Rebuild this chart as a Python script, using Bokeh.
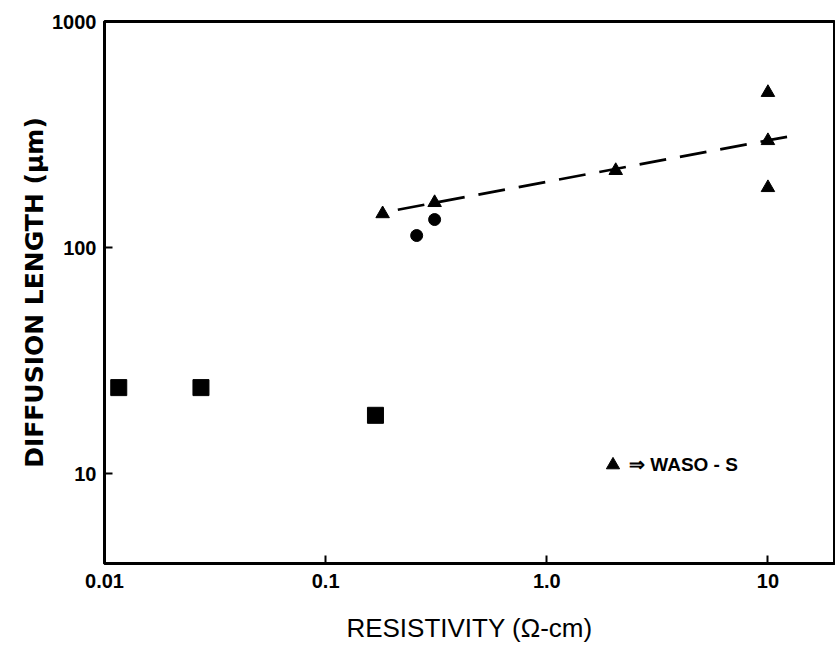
from bokeh.plotting import figure
from bokeh.models import FixedTicker, Range1d, Legend, LegendItem
from bokeh.embed import file_html
from bokeh.resources import INLINE

# ---- data ----
sq_x = [0.0116, 0.0273, 0.168]
sq_y = [24.0, 24.0, 18.1]
circ_x = [0.258, 0.311]
circ_y = [113, 133]
tri_x = [0.181, 0.311, 2.05, 10.0, 10.0, 10.0]
tri_y = [141, 158, 219, 297, 485, 184]
fit_x = [0.212, 13.8]
fit_y = [147, 316]
x_ticks = [0.01, 0.1, 1.0, 10.0]
x_tick_labels = ["0.01", "0.1", "1.0", "10"]
y_ticks = [10.0, 100.0, 1000.0]
y_tick_labels = ["10", "100", "1000"]
legend_label = "\u21d2 WASO - S"

p = figure(width=835, height=645, frame_width=730, frame_height=542,
           x_axis_type="log", y_axis_type="log",
           x_range=Range1d(0.01, 20), y_range=Range1d(4, 1000),
           min_border_left=104, min_border_right=1, min_border_top=21, min_border_bottom=82,
           output_backend="svg", toolbar_location=None)

p.xgrid.visible = False
p.ygrid.visible = False
p.outline_line_color = "black"
p.outline_line_width = 3
p.background_fill_color = "white"

p.xaxis.ticker = FixedTicker(ticks=x_ticks, minor_ticks=[])
p.yaxis.ticker = FixedTicker(ticks=y_ticks, minor_ticks=[])
p.xaxis.major_label_overrides = dict(zip(x_ticks, x_tick_labels))
p.yaxis.major_label_overrides = dict(zip(y_ticks, y_tick_labels))

for ax in (p.xaxis[0], p.yaxis[0]):
    ax.axis_line_width = 3
    ax.axis_line_color = "black"
    ax.major_tick_in = 8
    ax.major_tick_out = 0
    ax.major_tick_line_width = 2
    ax.minor_tick_line_color = None
    ax.major_label_text_font = "Liberation Sans"
    ax.major_label_text_font_style = "bold"
    ax.major_label_text_font_size = "20px"
    ax.major_label_text_color = "black"
    ax.axis_label_text_color = "black"

p.xaxis.major_label_standoff = 10
p.yaxis.major_label_standoff = 8

p.xaxis.axis_label = "RESISTIVITY (\u03a9-cm)"
p.xaxis.axis_label_text_font = "Liberation Sans"
p.xaxis.axis_label_text_font_style = "normal"
p.xaxis.axis_label_text_font_size = "26px"
p.xaxis.axis_label_standoff = 22

p.yaxis.axis_label = "DIFFUSION LENGTH (\u03bcm)"
p.yaxis.axis_label_text_font = "DejaVu Sans"
p.yaxis.axis_label_text_font_style = "bold"
p.yaxis.axis_label_text_font_size = "25px"
p.yaxis.axis_label_standoff = 0

p.line(fit_x, fit_y, line_color="black", line_width=2.7, line_dash="27 14")
p.scatter(sq_x, sq_y, marker="square", size=16, color="black")
p.scatter(circ_x, circ_y, marker="circle", size=12, color="black")
tri = p.scatter(tri_x, tri_y, marker="triangle", size=13.5, color="black")

legend = Legend(items=[LegendItem(label=legend_label, renderers=[tri])],
                location=(492, 82), glyph_width=33, glyph_height=33,
                padding=0, margin=0, spacing=0, label_standoff=-4,
                border_line_color=None, background_fill_alpha=0,
                label_text_font="Liberation Sans", label_text_font_style="bold",
                label_text_font_size="19px", label_text_color="black")
p.add_layout(legend)

open("out.html", "w").write(file_html(p, INLINE))
